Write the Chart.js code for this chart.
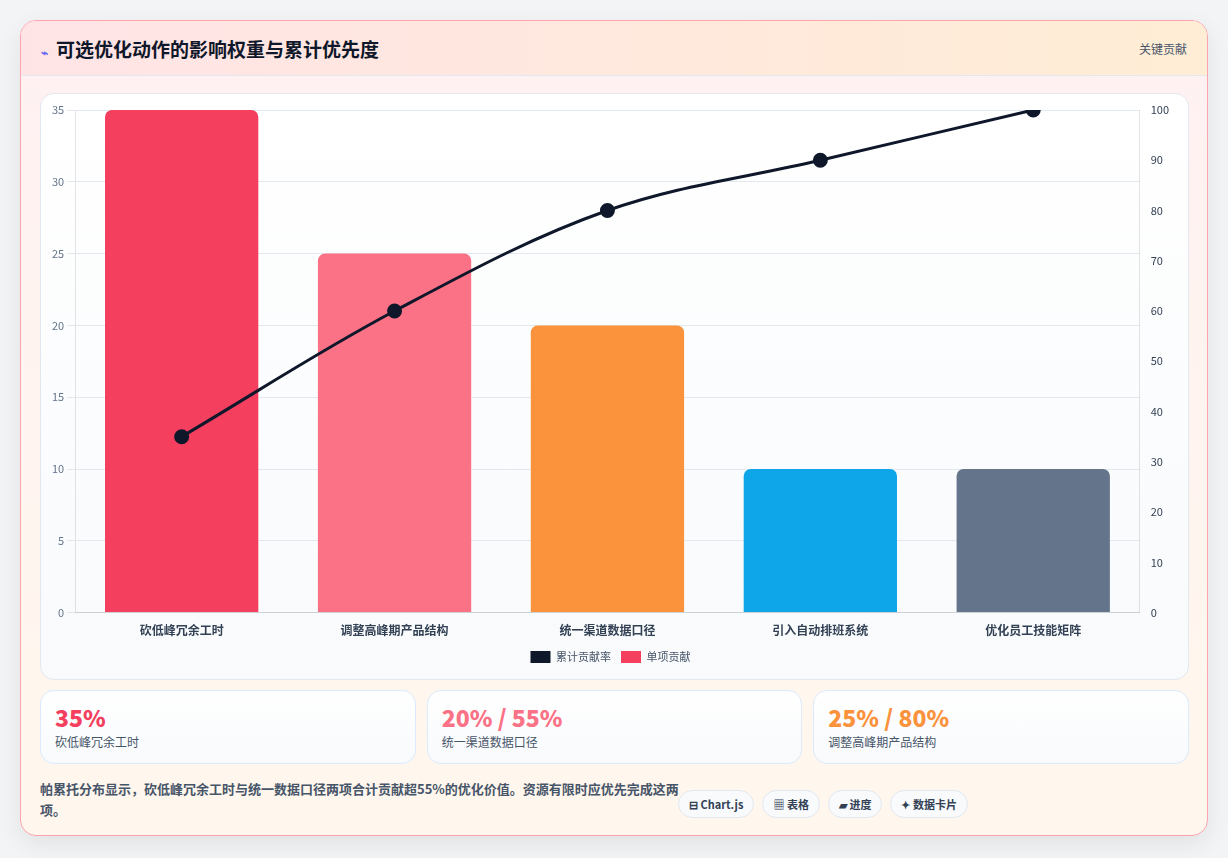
<!DOCTYPE html>
<html><head><meta charset="utf-8">
<script src="https://cdn.jsdelivr.net/npm/chart.js@4"></script>
<style>
*{box-sizing:border-box}
body{margin:0;width:1228px;height:858px;background:#f3f4f6;font-family:"Noto Sans CJK SC","Noto Sans",sans-serif;overflow:hidden}
.card{position:absolute;left:20px;top:20px;width:1188px;height:816px;border:1px solid #fda4af;border-radius:16px;background:linear-gradient(180deg,#fff1f2,#fff7ed);box-shadow:0 8px 24px rgba(0,0,0,.08);overflow:hidden}
.hdr{height:55px;background:linear-gradient(90deg,#ffe4e6,#ffedd5);border-bottom:1px solid #e2e8f0;display:flex;align-items:center;padding:0 20px;justify-content:space-between}
.hdr h1{margin:0;font-size:19px;font-weight:700;color:#0f172a}
.hdr h1 span{color:#6366f1;font-size:12px;margin-right:8px}
.hdr .tag{font-size:12px;color:#475569}
.panel{position:absolute;left:19px;top:72px;width:1149px;height:587px;border:1px solid #e2e8f0;border-radius:14px;background:linear-gradient(180deg,#ffffff,#f8fafc)}
.kpis{position:absolute;left:19px;top:669px;width:1149px;display:flex;gap:11px}
.kpi{flex:1;height:74px;border:1px solid #dbeafe;border-radius:14px;background:linear-gradient(180deg,#fff,#f8fafc);padding:10px 14px}
.kpi b{display:block;font-size:23px;font-weight:800;line-height:32px}
.kpi div{font-size:12px;color:#475569}
.foot{position:absolute;left:19px;top:757px;width:640px;font-size:13px;font-weight:700;color:#475569;line-height:21px}
.chips{position:absolute;left:657px;top:769px;display:flex;gap:8px}
.chip{font-size:11px;font-weight:700;color:#334155;border:1px solid #e2e8f0;background:#f8fafc;border-radius:14px;padding:5px 10px}
</style></head><body>
<div class="card">
<div class="hdr"><h1><span>⌁</span>可选优化动作的影响权重与累计优先度</h1><div class="tag">关键贡献</div></div>
<div class="panel"><canvas id="c" width="1147" height="585" style="width:1147px;height:585px"></canvas></div>
<div class="kpis">
<div class="kpi"><b style="color:#f43f5e">35%</b><div>砍低峰冗余工时</div></div>
<div class="kpi"><b style="color:#fb7185">20% / 55%</b><div>统一渠道数据口径</div></div>
<div class="kpi"><b style="color:#fb923c">25% / 80%</b><div>调整高峰期产品结构</div></div>
</div>
<div class="foot">帕累托分布显示，砍低峰冗余工时与统一数据口径两项合计贡献超55%的优化价值。资源有限时应优先完成这两项。</div>
<div class="chips"><span class="chip">⊟ Chart.js</span><span class="chip">▦ 表格</span><span class="chip">▰ 进度</span><span class="chip">✦ 数据卡片</span></div>
</div>
<script>
const categories=["砍低峰冗余工时","调整高峰期产品结构","统一渠道数据口径","引入自动排班系统","优化员工技能矩阵"];
const contribution=[35,25,20,10,10];
const cumulative=[35,60,80,90,100];
const barColors=["#f43f5e","#fb7185","#fb923c","#0ea5e9","#64748b"];
const tickFont={family:"Noto Sans CJK SC",size:11};
new Chart(document.getElementById('c'),{
data:{labels:categories,datasets:[
{type:'line',label:'累计贡献率',data:cumulative,yAxisID:'y1',borderColor:'#0f172a',backgroundColor:'#0f172a',borderWidth:3,tension:0.35,pointRadius:6,pointBackgroundColor:'#0f172a'},
{type:'bar',label:'单项贡献',data:contribution,yAxisID:'y',backgroundColor:barColors,borderRadius:{topLeft:7,topRight:7},borderSkipped:'bottom',barPercentage:0.9,categoryPercentage:0.8}
]},
options:{responsive:false,animation:false,
layout:{padding:{left:8,right:16,top:16,bottom:6}},
plugins:{legend:{position:'bottom',labels:{boxWidth:20,boxHeight:12,color:'#475569',font:{family:"Noto Sans CJK SC",size:11},
generateLabels:(ch)=>ch.data.datasets.map((d,i)=>({text:d.label,fillStyle:i==0?'#0f172a':'#f43f5e',strokeStyle:i==0?'#0f172a':'#f43f5e',lineWidth:0,datasetIndex:i,fontColor:'#475569'}))}},tooltip:{enabled:false}},
scales:{
x:{grid:{display:false},ticks:{color:'#334155',font:{family:"Noto Sans CJK SC",size:12,weight:'bold'}}},
y:{position:'left',min:0,max:35,ticks:{stepSize:5,color:'#64748b',font:tickFont},grid:{color:'#e2e8f0'}},
y1:{position:'right',min:0,max:100,ticks:{stepSize:10,color:'#334155',font:tickFont},grid:{display:false}}
}}});
</script>
</body></html>
